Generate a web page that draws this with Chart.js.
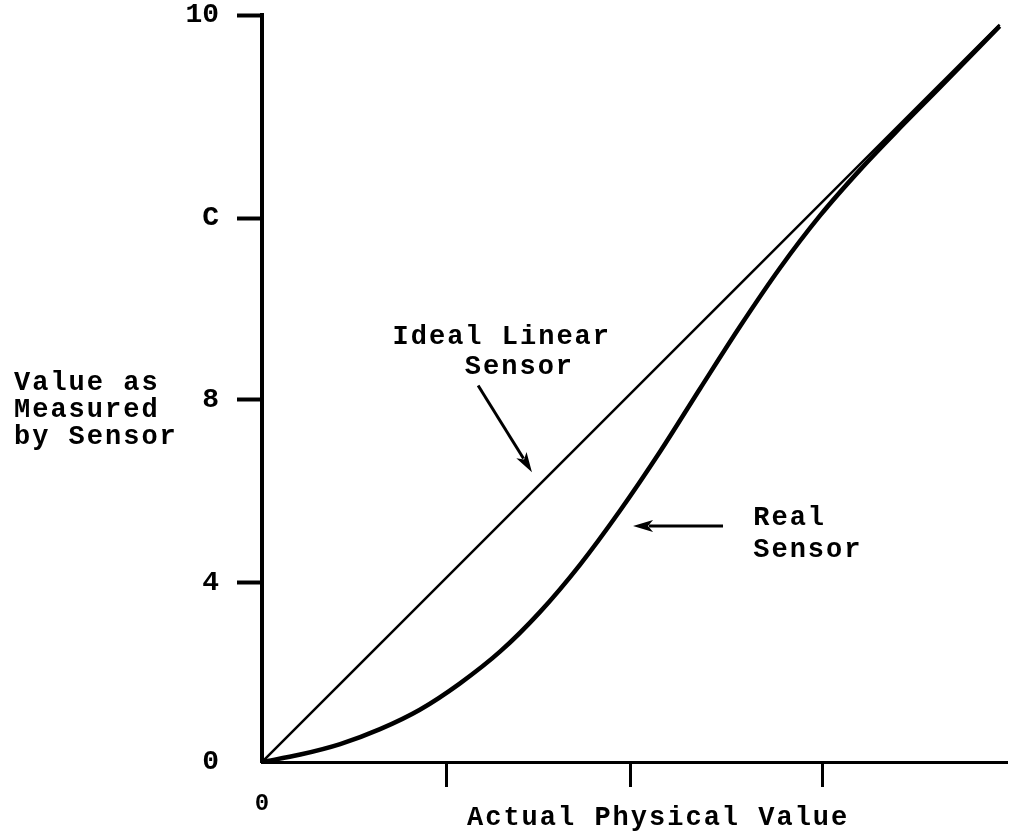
<!DOCTYPE html>
<html lang="en">
<head>
    <meta charset="UTF-8">
    <title>Sensor Linearity</title>
    <script src="https://cdn.jsdelivr.net/npm/chart.js"></script>
    <style>
        html, body {
            margin: 0;
            padding: 0;
            background: #fff;
        }

        .chart-container {
            width: 1009px;
            height: 837px;
        }
    </style>
</head>
<body>
    <div class="chart-container">
        <canvas id="sensorChart"></canvas>
    </div>

    <script>
        // Axis ticks and their printed labels
        const xTicks = [0, 2.5, 5, 7.6];
        const xTickLabels = ['0', '', '', ''];
        const yTicks = [0, 2.4, 4.85, 7.28, 10];
        const yTickLabels = ['0', '4', '8', 'C', '10'];

        // Ideal sensor: straight line through the origin
        const idealX = [0, 10];
        const idealY = [0, 9.87];

        // Real sensor response
        const realX = [0, 0.52, 1.06, 1.6, 2.14, 2.68, 3.23, 3.77, 4.31, 4.85, 5.4, 5.94, 6.48, 7.02, 7.57, 8.11, 8.65, 9.19, 10];
        const realY = [0, 0.1, 0.24, 0.44, 0.7, 1.05, 1.48, 2.01, 2.64, 3.36, 4.16, 5.0, 5.83, 6.61, 7.32, 7.93, 8.49, 9.03, 9.85];

        const FONT = "'Liberation Mono', 'DejaVu Sans Mono', monospace";
        const INK = '#000';

        const toPoints = (xs, ys) => xs.map((x, i) => ({ x: x, y: ys[i] }));

        // Draws a line with a filled arrowhead at (x2, y2)
        function arrow(ctx, x1, y1, x2, y2) {
            const ang = Math.atan2(y2 - y1, x2 - x1);
            const c = Math.cos(ang), s = Math.sin(ang);
            const len = 20, half = 6;
            ctx.beginPath();
            ctx.moveTo(x1, y1);
            ctx.lineTo(x2 - c * len * 0.8, y2 - s * len * 0.8);
            ctx.stroke();
            ctx.beginPath();
            ctx.moveTo(x2, y2);
            ctx.lineTo(x2 - c * len - s * half, y2 - s * len + c * half);
            ctx.lineTo(x2 - c * len * 0.75, y2 - s * len * 0.75);
            ctx.lineTo(x2 - c * len + s * half, y2 - s * len - c * half);
            ctx.closePath();
            ctx.fill();
        }

        // Axis titles and the callouts for both curves
        const labelsPlugin = {
            id: 'sensorLabels',
            afterDraw(chart) {
                const ctx = chart.ctx;
                const x = chart.scales.x, y = chart.scales.y;
                const px = v => x.getPixelForValue(v);
                const py = v => y.getPixelForValue(v);

                ctx.save();
                ctx.fillStyle = INK;
                ctx.strokeStyle = INK;
                ctx.font = 'bold 27px ' + FONT;
                ctx.letterSpacing = '2px';
                ctx.textBaseline = 'middle';
                ctx.textAlign = 'left';

                // y-axis title
                ctx.fillText('Value as', 14, 383);
                ctx.fillText('Measured', 14, 410);
                ctx.fillText('by Sensor', 14, 437);

                // x-axis title
                ctx.fillText('Actual Physical Value', 467, 818);

                // callouts, anchored in data space
                ctx.fillText('Ideal Linear', px(1.77), py(5.69));
                ctx.fillText('Sensor', px(2.75), py(5.28));
                ctx.fillText('Real', px(6.66), py(3.27));
                ctx.fillText('Sensor', px(6.66), py(2.84));

                ctx.lineWidth = 3;
                arrow(ctx, px(2.93), py(5.04), px(3.66), py(3.88));
                arrow(ctx, px(6.25), py(3.16), px(5.03), py(3.16));
                ctx.restore();
            }
        };

        const ctx = document.getElementById('sensorChart').getContext('2d');
        const sensorChart = new Chart(ctx, {
            type: 'scatter',
            data: {
                datasets: [{
                    label: 'Ideal Linear Sensor',
                    data: toPoints(idealX, idealY),
                    showLine: true,
                    borderColor: INK,
                    borderWidth: 2.5,
                    pointRadius: 0
                }, {
                    label: 'Real Sensor',
                    data: toPoints(realX, realY),
                    showLine: true,
                    borderColor: INK,
                    borderWidth: 4.5,
                    cubicInterpolationMode: 'monotone',
                    pointRadius: 0
                }]
            },
            plugins: [labelsPlugin],
            options: {
                responsive: true,
                maintainAspectRatio: false,
                animation: false,
                layout: {
                    padding: { top: 15, right: 2, left: 0, bottom: 0 }
                },
                plugins: {
                    legend: { display: false },
                    tooltip: { enabled: false }
                },
                scales: {
                    x: {
                        type: 'linear',
                        min: 0,
                        max: 10.1,
                        afterBuildTicks: s => { s.ticks = xTicks.map(v => ({ value: v })); },
                        afterFit: s => { s.height = 75; },
                        border: { display: true, color: INK, width: 3 },
                        grid: {
                            drawOnChartArea: false,
                            drawTicks: true,
                            tickLength: 25,
                            tickWidth: 3,
                            tickColor: c => (c.tick && c.tick.value === 0) ? 'rgba(0,0,0,0)' : INK
                        },
                        ticks: {
                            color: INK,
                            padding: 3,
                            maxRotation: 0,
                            font: { family: FONT, size: 24, weight: 'bold' },
                            callback: (v, i) => xTickLabels[i]
                        }
                    },
                    y: {
                        type: 'linear',
                        min: 0,
                        max: 10,
                        afterBuildTicks: s => { s.ticks = yTicks.map(v => ({ value: v })); },
                        afterFit: s => {
                            s.width = 262;
                            // keep the top label from pushing the plot down
                            s.paddingTop = 0;
                            s.paddingBottom = 0;
                        },
                        border: { display: true, color: INK, width: 4 },
                        grid: {
                            drawOnChartArea: false,
                            drawTicks: true,
                            tickLength: 25,
                            tickWidth: 4,
                            tickColor: c => (c.tick && c.tick.value === 0) ? 'rgba(0,0,0,0)' : INK
                        },
                        ticks: {
                            color: INK,
                            padding: 18,
                            font: { family: FONT, size: 28, weight: 'bold' },
                            callback: (v, i) => yTickLabels[i]
                        }
                    }
                }
            }
        });
    </script>
</body>
</html>
